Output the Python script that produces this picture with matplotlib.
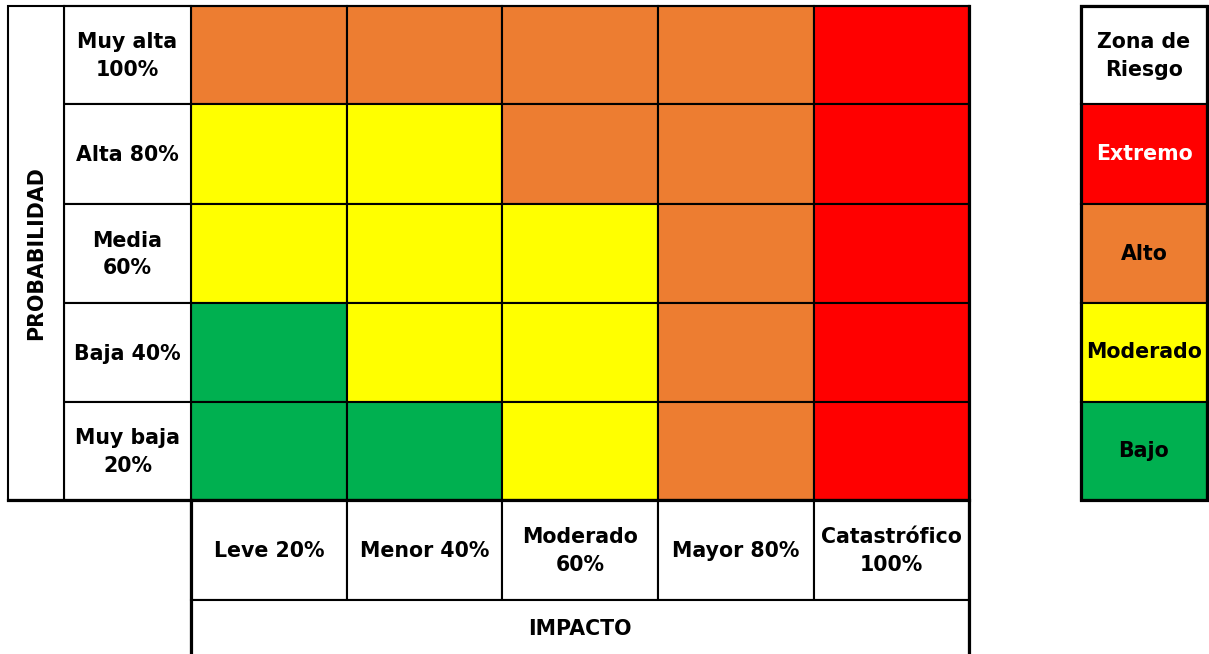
import matplotlib
matplotlib.use("Agg")
import matplotlib.pyplot as plt
from matplotlib.patches import Rectangle

# ---- data ----
prob_labels = ["Muy alta\n100%", "Alta 80%", "Media\n60%", "Baja 40%", "Muy baja\n20%"]
impact_labels = ["Leve 20%", "Menor 40%", "Moderado\n60%", "Mayor 80%", "Catastrófico\n100%"]
risk_matrix = [
    ["Alto", "Alto", "Alto", "Alto", "Extremo"],
    ["Moderado", "Moderado", "Alto", "Alto", "Extremo"],
    ["Moderado", "Moderado", "Moderado", "Alto", "Extremo"],
    ["Bajo", "Moderado", "Moderado", "Alto", "Extremo"],
    ["Bajo", "Bajo", "Moderado", "Alto", "Extremo"],
]
zones = ["Extremo", "Alto", "Moderado", "Bajo"]
zone_colors = {"Extremo": "#FF0000", "Alto": "#ED7D31", "Moderado": "#FFFF00", "Bajo": "#00B050"}
zone_text_colors = {"Extremo": "white", "Alto": "black", "Moderado": "black", "Bajo": "black"}
y_title = "PROBABILIDAD"
x_title = "IMPACTO"
legend_title = "Zona de\nRiesgo"

# ---- layout (pixels) ----
W, H = 1209, 654
col_edges = [191, 347, 502, 658, 814, 969]
row_edges = [6, 104, 204, 303, 402, 500]
title_col = (8, 64)
label_col = (64, 191)
xlab_row = (500, 600)
xtitle_row = (600, 660)
leg_x = (1081, 1207)

FS = 14.8
thin = 1.5
thick = 2.3

fig = plt.figure(figsize=(W / 100, H / 100), dpi=100)
ax = fig.add_axes([0, 0, 1, 1])
ax.set_xlim(0, W)
ax.set_ylim(H, 0)
ax.axis("off")

def cell(x0, x1, y0, y1, fc="white", lw=thin, z=1):
    ax.add_patch(Rectangle((x0, y0), x1 - x0, y1 - y0, facecolor=fc,
                           edgecolor="black", linewidth=lw, zorder=z))

def txt(x, y, s, color="black", rot=0):
    t = ax.text(x, y, s, ha="center", va="center", fontsize=FS, fontweight="bold",
                color=color, rotation=rot, linespacing=1.45, family="DejaVu Sans", zorder=5)
    return t

# matrix cells
for i, row in enumerate(risk_matrix):
    for j, z in enumerate(row):
        cell(col_edges[j], col_edges[j + 1], row_edges[i], row_edges[i + 1], zone_colors[z])

# row labels
for i, lab in enumerate(prob_labels):
    cell(label_col[0], label_col[1], row_edges[i], row_edges[i + 1])
    txt((label_col[0] + label_col[1]) / 2, (row_edges[i] + row_edges[i + 1]) / 2 + 1, lab)

# probability title column
cell(title_col[0], title_col[1], row_edges[0], row_edges[-1])
ax.text((title_col[0] + title_col[1]) / 2, (row_edges[0] + row_edges[-1]) / 2, y_title,
        ha="center", va="center", fontsize=FS, fontweight="bold", rotation=90,
        family="DejaVu Sans", zorder=5)

# impact labels
for j, lab in enumerate(impact_labels):
    cell(col_edges[j], col_edges[j + 1], xlab_row[0], xlab_row[1])
    txt((col_edges[j] + col_edges[j + 1]) / 2, (xlab_row[0] + xlab_row[1]) / 2 + 1, lab)

# impact title
cell(col_edges[0], col_edges[-1], xtitle_row[0], xtitle_row[1])
txt((col_edges[0] + col_edges[-1]) / 2, 629, x_title)

# thick outer lines
ax.plot([title_col[0], col_edges[-1]], [row_edges[-1], row_edges[-1]], color="black", lw=thick, zorder=4)
ax.plot([col_edges[-1], col_edges[-1]], [row_edges[0], H], color="black", lw=thick, zorder=4)
ax.plot([col_edges[0], col_edges[0]], [row_edges[-1], H], color="black", lw=thick, zorder=4)
ax.plot([label_col[0], col_edges[-1]], [row_edges[0], row_edges[0]], color="black", lw=thin, zorder=4)

# legend
cell(leg_x[0], leg_x[1], row_edges[0], row_edges[1])
txt((leg_x[0] + leg_x[1]) / 2, (row_edges[0] + row_edges[1]) / 2 + 1, legend_title)
for k, z in enumerate(zones):
    cell(leg_x[0], leg_x[1], row_edges[k + 1], row_edges[k + 2], zone_colors[z])
    txt((leg_x[0] + leg_x[1]) / 2, (row_edges[k + 1] + row_edges[k + 2]) / 2, z,
        color=zone_text_colors[z])
ax.add_patch(Rectangle((leg_x[0], row_edges[0]), leg_x[1] - leg_x[0], row_edges[-1] - row_edges[0],
                       facecolor="none", edgecolor="black", linewidth=thick, zorder=4))

fig.savefig("out.png", dpi=100, facecolor="white")
